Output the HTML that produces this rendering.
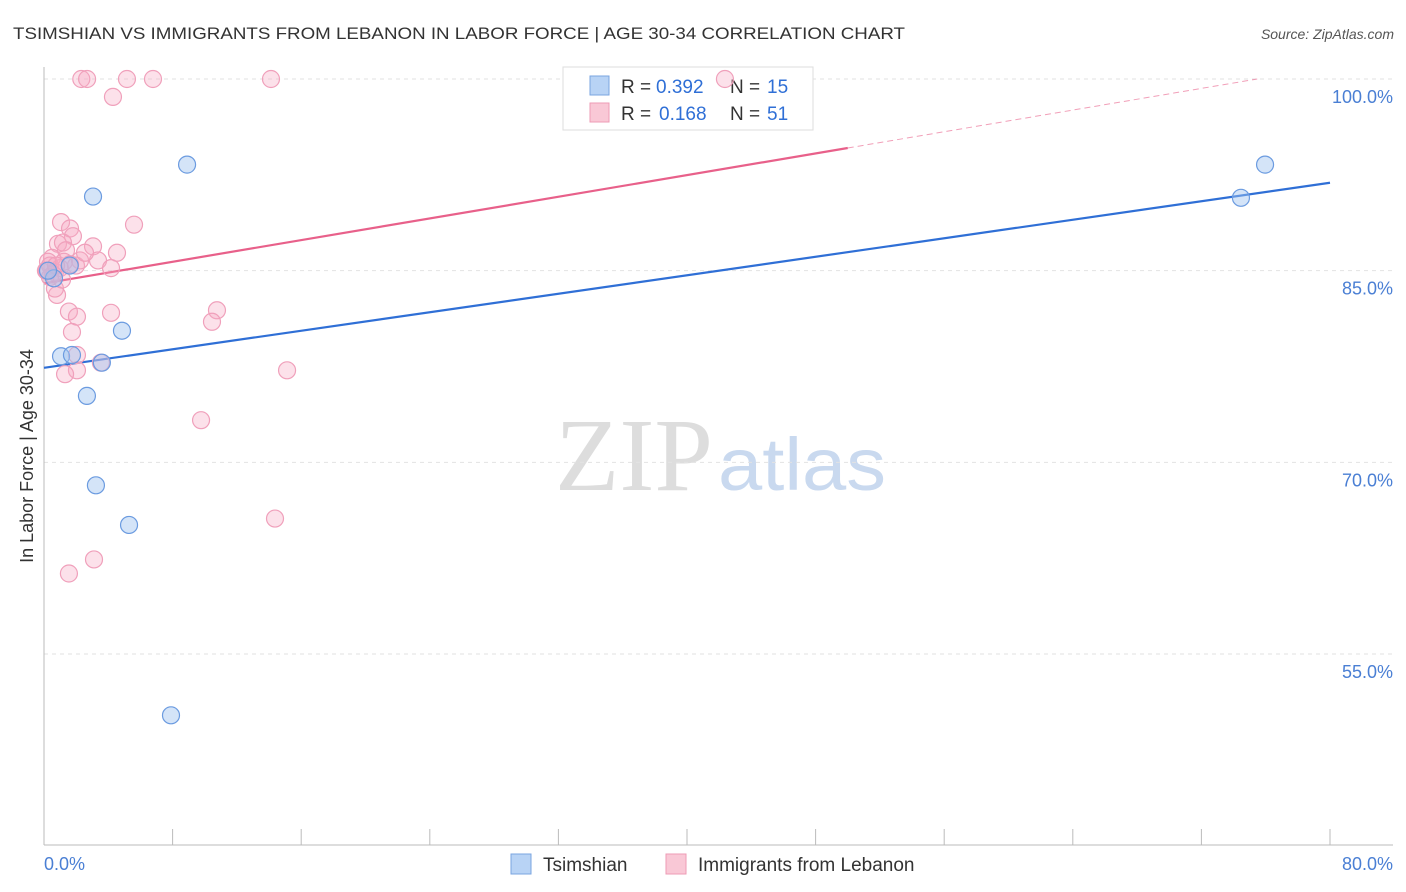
<!DOCTYPE html>
<html><head><meta charset="utf-8"><style>
body{margin:0;background:#fff;font-family:"Liberation Sans",sans-serif}
</style></head><body>
<svg id="chart" width="1406" height="892" xmlns="http://www.w3.org/2000/svg" style="display:block">
<text x="13" y="39" font-size="17" fill="#333" textLength="892" lengthAdjust="spacingAndGlyphs">TSIMSHIAN VS IMMIGRANTS FROM LEBANON IN LABOR FORCE | AGE 30-34 CORRELATION CHART</text>
<text x="1394" y="39" font-size="14" fill="#555" text-anchor="end" font-style="italic">Source: ZipAtlas.com</text>
<g>
<text x="555" y="490" font-size="104" fill="#ddd" font-family="Liberation Serif" textLength="158" lengthAdjust="spacingAndGlyphs">ZIP</text>
<text x="718" y="490" font-size="74" fill="#c9d9ef" textLength="168" lengthAdjust="spacingAndGlyphs">atlas</text>
</g>
<g id="grid"></g>
<g id="axes"></g>
<g id="lines"></g>
<g>
<rect x="563" y="67" width="250" height="63" fill="#fff" stroke="#ddd"/>
<rect x="590" y="76" width="19" height="19" fill="#b8d3f5" stroke="#7aa5e0"/>
<text x="621" y="93" font-size="19" fill="#333">R =</text>
<text x="656" y="93" font-size="19" fill="#2f6fd6">0.392</text>
<text x="730" y="93" font-size="19" fill="#333">N =</text>
<text x="767" y="93" font-size="19" fill="#2f6fd6">15</text>
<rect x="590" y="103" width="19" height="19" fill="#f9c8d6" stroke="#ee9bb5"/>
<text x="621" y="120" font-size="19" fill="#333">R =</text>
<text x="659" y="120" font-size="19" fill="#2f6fd6">0.168</text>
<text x="730" y="120" font-size="19" fill="#333">N =</text>
<text x="767" y="120" font-size="19" fill="#2f6fd6">51</text>
</g>
<g id="points"></g>
<text transform="translate(33,456) rotate(-90)" font-size="18" fill="#333" text-anchor="middle">In Labor Force | Age 30-34</text>
<text x="44" y="870" font-size="18" fill="#4a7fd4">0.0%</text>
<text x="1393" y="870" font-size="18" fill="#4a7fd4" text-anchor="end">80.0%</text>
<g>
<rect x="511" y="854" width="20" height="20" fill="#b8d3f5" stroke="#7aa5e0"/>
<text x="543" y="871" font-size="19" fill="#333">Tsimshian</text>
<rect x="666" y="854" width="20" height="20" fill="#f9c8d6" stroke="#ee9bb5"/>
<text x="698" y="871" font-size="19" fill="#333">Immigrants from Lebanon</text>
</g>
</svg>
<script>
const yTicks=[100,85,70,55];
const yTickLabels=["100.0%","85.0%","70.0%","55.0%"];
const xTicks=[0,8,16,24,32,40,48,56,64,72,80];
const blueX=[8.9,3.05,4.85,1.06,1.74,3.6,2.67,3.23,5.29,7.9,75.96,74.46,0.62,1.6,0.25];
const blueY=[93.3,90.8,80.3,78.3,78.4,77.8,75.2,68.2,65.1,50.2,93.3,90.7,84.4,85.4,85.0];
const pinkX=[2.32,2.68,5.16,6.78,14.12,42.36,4.29,5.6,1.06,1.62,1.8,3.05,4.54,0.87,1.18,1.37,0.5,0.25,0.37,0.12,0.68,0.99,1.24,1.99,2.24,3.36,4.17,0.81,0.68,1.55,4.17,2.05,10.76,10.45,1.74,2.05,3.54,2.05,1.31,15.12,9.77,14.37,3.11,1.55,0.56,0.37,1.62,0.19,0.75,1.12,2.55];
const pinkY=[100,100,100,100,100,100,98.6,88.6,88.8,88.3,87.7,86.9,86.4,87.1,87.2,86.6,86.0,85.7,85.4,85.0,84.9,85.2,85.7,85.4,85.8,85.8,85.2,83.1,83.6,81.8,81.7,81.4,81.9,81.0,80.2,78.4,77.8,77.2,76.9,77.2,73.3,65.6,62.4,61.3,84.7,84.5,85.5,85.0,85.4,84.3,86.4];
const trendIntercept=[77.4,84.0];
const trendSlope=[0.181,0.212];
const trendSolidEnd=[80,50];
const X0=44,X1=1330,Y100=79,Y55=654;
const sx=v=>X0+(X1-X0)*v/80;
const sy=v=>Y100+(100-v)*(Y55-Y100)/45;
const NS="http://www.w3.org/2000/svg";
function mk(tag,attrs,parent){const e=document.createElementNS(NS,tag);for(const k in attrs)e.setAttribute(k,attrs[k]);document.getElementById(parent).appendChild(e);return e;}
yTicks.forEach((t,i)=>{
 const g=mk('line',{x1:44,x2:1393,y1:sy(t),y2:sy(t),stroke:'#e2e2e2','stroke-dasharray':'4,4'},'grid');
 
 
 const l=mk('text',{x:1393,y:sy(t)+24,'font-size':18,fill:'#4a7fd4','text-anchor':'end'},'grid');
 l.textContent=yTickLabels[i];
 
 
});
const ya=mk('line',{x1:44,x2:44,y1:67,y2:845,stroke:'#bbb'},'axes');


const xa=mk('line',{x1:44,x2:1393,y1:845,y2:845,stroke:'#bbb'},'axes');


xTicks.forEach(t=>{
 const tk=mk('line',{x1:sx(t),x2:sx(t),y1:829,y2:845,stroke:'#bbb'},'axes');
 
 
});
const colors=['#2f6fd6','#e8608a'];
[0,1].forEach(i=>{
 const f=x=>trendIntercept[i]+trendSlope[i]*x;
 const e=trendSolidEnd[i];
 const l=mk('line',{x1:sx(0),y1:sy(f(0)),x2:sx(e),y2:sy(f(e)),stroke:colors[i],'stroke-width':2.2},'lines');
 
 
 if(e<80){
  let xe=Math.min(80,(100-trendIntercept[i])/trendSlope[i]);
  const d=mk('line',{x1:sx(e),y1:sy(f(e)),x2:sx(xe),y2:sy(f(xe)),stroke:colors[i],'stroke-width':1,'stroke-dasharray':'6,4',opacity:0.6},'lines');
  
  
 }
});
pinkX.forEach((x,i)=>{
 const c=mk('circle',{cx:sx(x),cy:sy(pinkY[i]),r:8.5,fill:'rgba(246,170,195,0.35)',stroke:'#f0a0bb','stroke-width':1.2},'points');
 
 
});
blueX.forEach((x,i)=>{
 const c=mk('circle',{cx:sx(x),cy:sy(blueY[i]),r:8.5,fill:'rgba(160,195,240,0.45)',stroke:'#6b9be0','stroke-width':1.2},'points');
 
 
});
</script>
</body></html>
